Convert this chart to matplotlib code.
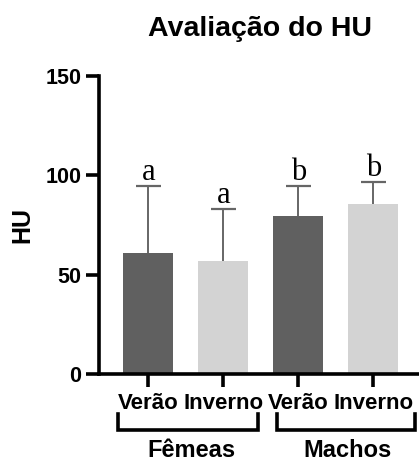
import matplotlib
matplotlib.use("Agg")
import matplotlib.pyplot as plt

# data
conditions = ["Verão", "Inverno", "Verão", "Inverno"]
groups = ["Fêmeas", "Machos"]
means = [60.8, 56.8, 79.4, 85.4]
errors = [33.7, 26.2, 15.1, 11.1]
letters = ["a", "a", "b", "b"]
colors = ["#606060", "#d3d3d3", "#606060", "#d3d3d3"]

plt.rcParams["font.family"] = ["Liberation Sans", "DejaVu Sans"]
plt.rcParams["font.weight"] = "bold"

fig = plt.figure(figsize=(4.19, 4.61), dpi=100)
ax = fig.add_axes([0.236, 0.189, 0.764, 0.646])

x = list(range(len(means)))
ax.bar(x, means, width=0.67, color=colors, zorder=2)
# upward-only error bars with caps
tops = [m + e for m, e in zip(means, errors)]
ax.vlines(x, means, tops, color="#666666", lw=1.4, zorder=1)
ax.hlines(tops, [xi - 0.17 for xi in x], [xi + 0.17 for xi in x],
          color="#666666", lw=1.6, zorder=1)

for xi, t, lab in zip(x, tops, letters):
    ax.text(xi, t + 3, lab, ha="center", va="baseline",
            family="Liberation Serif", fontweight="normal", fontsize=22)

ax.set_xlim(-0.66, 3.61)
ax.set_ylim(0, 150)
ax.set_yticks([0, 50, 100, 150])
ax.set_xticks(x)
ax.set_xticklabels(conditions)

for side in ["top", "right"]:
    ax.spines[side].set_visible(False)
for side in ["left", "bottom"]:
    ax.spines[side].set_linewidth(2.6)
ax.tick_params(axis="both", width=2.6, length=9.5, labelsize=15.5)
ax.tick_params(axis="x", labelsize=16, pad=4)
ax.tick_params(axis="y", pad=3)
for lbl in ax.get_xticklabels() + ax.get_yticklabels():
    lbl.set_fontweight("bold")

ax.set_ylabel("HU", fontsize=18, fontweight="bold", labelpad=8)
fig.text(0.62, 0.938, "Avaliação do HU", ha="center", va="center",
         fontsize=20.5, fontweight="bold")

# group brackets under the tick labels
trans = ax.get_xaxis_transform()
brackets = [(-0.41, 1.46), (1.71, 3.56)]
label_shift = [0.05, 0.02]
for (x0, x1), name, dx in zip(brackets, groups, label_shift):
    ax.plot([x0, x0, x1, x1], [-0.135, -0.188, -0.188, -0.135],
            transform=trans, color="black", lw=2.6, clip_on=False,
            solid_joinstyle="miter")
    ax.text((x0 + x1) / 2 + dx, -0.258, name, transform=trans,
            ha="center", va="center", fontsize=17, fontweight="bold")

fig.savefig("out.png", dpi=100)
